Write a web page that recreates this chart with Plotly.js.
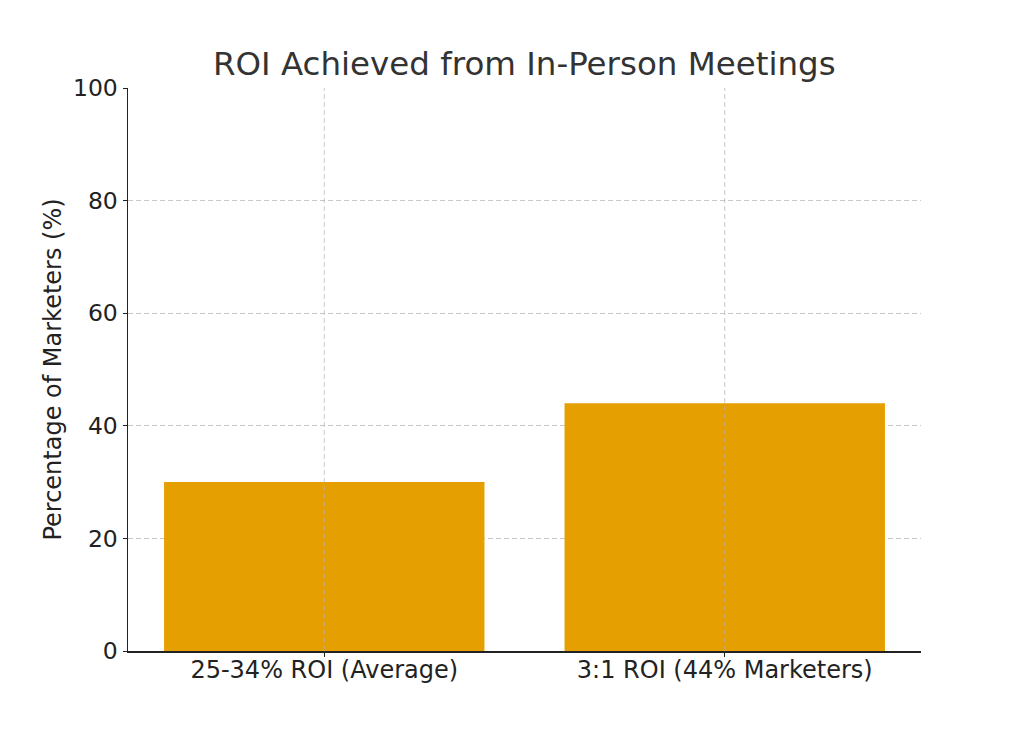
<!DOCTYPE html>
<html>
<head>
<meta charset="utf-8">
<script src="https://cdn.plot.ly/plotly-3.0.1.min.js"></script>
<style>
  html, body { margin: 0; padding: 0; background: #fff; }
  #chart { width: 1024px; height: 731px; }
</style>
</head>
<body>
<div id="chart"></div>
<script>
// ROI chart data
const categories = ['25-34% ROI (Average)', '3:1 ROI (44% Marketers)'];
const percentages = [30, 44];
const yTicks = [0, 20, 40, 60, 80, 100];

const FONT = 'DejaVu Sans, sans-serif';
const GRID = 'rgba(176,176,176,0.7)';
const DASH = '5px,3px';

const trace = {
    x: categories,
    y: percentages,
    type: 'bar',
    width: 0.8,
    marker: { color: '#E69F00' },
    hoverinfo: 'x+y',
};

// vertical grid drawn on top of the bars, as in the original
const gridShapes = categories.map(c => ({
    type: 'line',
    xref: 'x', yref: 'paper',
    x0: c, x1: c, y0: 0, y1: 1,
    line: { color: GRID, width: 1, dash: DASH },
    layer: 'above',
}));

const layout = {
    width: 1024,
    height: 731,
    paper_bgcolor: '#fff',
    plot_bgcolor: '#fff',
    margin: { l: 128, r: 103, t: 88, b: 80 },
    font: { family: FONT, size: 24, color: '#222' },
    title: {
        text: 'ROI Achieved from In-Person Meetings',
        font: { family: FONT, size: 32.5, color: '#333' },
        x: 0.512, xanchor: 'center',
        y: 0.913, yanchor: 'middle',
    },
    showlegend: false,
    shapes: gridShapes,
    xaxis: {
        type: 'category',
        range: [-0.49, 1.49],
        showline: true,
        linecolor: '#222',
        linewidth: 1.5,
        ticks: 'outside',
        ticklen: 4,
        tickcolor: '#222',
        ticklabelstandoff: -7,
        showgrid: false,
        tickfont: { family: FONT, size: 24, color: '#222' },
    },
    yaxis: {
        range: [0, 100],
        tickvals: yTicks,
        showline: true,
        linecolor: '#222',
        linewidth: 1.5,
        ticks: 'outside',
        ticklen: 4,
        tickcolor: '#222',
        showgrid: true,
        gridcolor: GRID,
        griddash: DASH,
        gridwidth: 1,
        zeroline: false,
        tickfont: { family: FONT, size: 23.5, color: '#222' },
        title: {
            text: 'Percentage of Marketers (%)',
            font: { family: FONT, size: 24, color: '#222' },
            standoff: 4,
        },
    },
};

Plotly.newPlot('chart', [trace], layout, { displayModeBar: false, staticPlot: true });
</script>
</body>
</html>
